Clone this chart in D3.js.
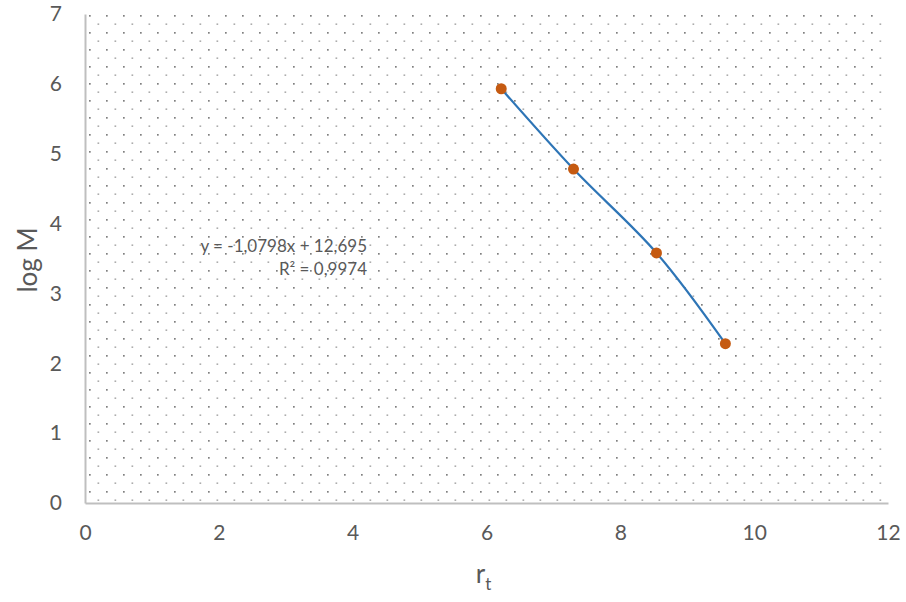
<!DOCTYPE html>
<html>
<head>
<meta charset="utf-8">
<script src="https://cdn.jsdelivr.net/npm/d3@7"></script>
<style>
  body { margin: 0; background: #fff; }
  text { font-family: Lato, "Open Sans", sans-serif; fill: #595959; }
</style>
</head>
<body>
<div id="chart"></div>
<script>
// chart data
let rtValues = [6.22, 7.30, 8.54, 9.57];
let logMValues = [5.93, 4.78, 3.58, 2.28];
let xTicks = [0, 2, 4, 6, 8, 10, 12];
let yTicks = [0, 1, 2, 3, 4, 5, 6, 7];
let equationLines = ["y = -1,0798x + 12,695", "R² = 0,9974"];

let svgWidth = 906;
let svgHeight = 602;

let margins = { top: 14, right: 18, bottom: 99, left: 85 };
let width = svgWidth - margins.left - margins.right;
let height = svgHeight - margins.top - margins.bottom;

let svg = d3.select("#chart")
    .append("svg")
    .attr("width", svgWidth)
    .attr("height", svgHeight);

// dotted fill pattern like the excel plot area
let defs = svg.append("defs");
let pat = defs.append("pattern")
    .attr("id", "dots")
    .attr("patternUnits", "userSpaceOnUse")
    .attr("width", 17)
    .attr("height", 17)
    .attr("x", margins.left + 4)
    .attr("y", margins.top + 4);
pat.append("rect").attr("x", 0).attr("y", 0).attr("width", 1.7).attr("height", 1.7).attr("fill", "#808080");
pat.append("rect").attr("x", 8.5).attr("y", 8.5).attr("width", 1.7).attr("height", 1.3).attr("fill", "#999");

let chartGroup = svg.append("g")
    .attr("transform", `translate(${margins.left}, ${margins.top})`);

let xScale = d3.scaleLinear().domain([0, 12]).range([0, width]);
let yScale = d3.scaleLinear().domain([0, 7]).range([height, 0]);

chartGroup.append("rect")
    .attr("width", width)
    .attr("height", height)
    .attr("fill", "url(#dots)");

// axes
let bottomAxis = d3.axisBottom(xScale).tickValues(xTicks).tickSize(0).tickPadding(22).tickFormat(d3.format("d"));
let leftAxis = d3.axisLeft(yScale).tickValues(yTicks).tickSize(0).tickPadding(23).tickFormat(d3.format("d"));

let xAxisG = chartGroup.append("g")
    .attr("transform", `translate(0, ${height})`)
    .call(bottomAxis);
let yAxisG = chartGroup.append("g").call(leftAxis);

[xAxisG, yAxisG].forEach(g => {
    g.select(".domain").attr("stroke", "#bfbfbf").attr("stroke-width", 2);
    g.selectAll("text").style("font-size", "21px").attr("fill", "#595959");
});

// smoothed line
let line = d3.line()
    .x(d => xScale(d[0]))
    .y(d => yScale(d[1]))
    .curve(d3.curveCatmullRom.alpha(0.5));

let pts = d3.zip(rtValues, logMValues);

chartGroup.append("path")
    .datum(pts)
    .attr("d", line)
    .attr("fill", "none")
    .attr("stroke", "#2e75b6")
    .attr("stroke-width", 2.2);

chartGroup.selectAll("circle")
    .data(pts)
    .enter()
    .append("circle")
    .attr("cx", d => xScale(d[0]))
    .attr("cy", d => yScale(d[1]))
    .attr("r", 5.5)
    .attr("fill", "#c55a11");

// trendline label
chartGroup.selectAll(".eq")
    .data(equationLines)
    .enter()
    .append("text")
    .attr("class", "eq")
    .attr("x", 282)
    .attr("y", (d, i) => 238 + i * 23)
    .attr("text-anchor", "end")
    .style("font-size", "17px")
    .text(d => d);

// axis titles
chartGroup.append("text")
    .attr("transform", "rotate(-90)")
    .attr("x", -(260 - margins.top))
    .attr("y", -margins.left + 37)
    .attr("text-anchor", "middle")
    .style("font-size", "26px")
    .text("log M");

let xTitle = chartGroup.append("text")
    .attr("x", xScale(6) - 3)
    .attr("y", height + 80)
    .attr("text-anchor", "middle")
    .style("font-size", "26px");
xTitle.append("tspan").text("r");
xTitle.append("tspan").attr("dy", 7).style("font-size", "17px").text("t");
</script>
</body>
</html>
